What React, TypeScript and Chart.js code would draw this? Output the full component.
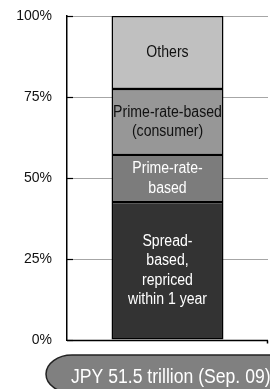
import React, { useEffect, useRef } from "react";
import { Chart, registerables } from "chart.js";
Chart.register(...registerables);

const categories = ["JPY 51.5 trillion (Sep. 09)"];
const seriesNames = [
  "Spread-based, repriced within 1 year",
  "Prime-rate-based",
  "Prime-rate-based (consumer)",
  "Others",
];
const segmentLabels = [
  ["Spread-", "based,", "repriced", "within 1 year"],
  ["Prime-rate-", "based"],
  ["Prime-rate-based", "(consumer)"],
  ["Others"],
];
const spreadValues = [42.6];
const primeValues = [14.5];
const consumerValues = [20.4];
const othersValues = [22.5];
const yTicks = [0, 25, 50, 75, 100];

const FONT = "'Liberation Sans Narrow', 'Arial Narrow', 'Liberation Sans', Arial, sans-serif";
const fills = ["#333333", "#7c7c7c", "#979797", "#c0c0c0"];
const textColors = ["#ffffff", "#ffffff", "#111111", "#111111"];
const NARROW = 0.88;

function narrowText(c: CanvasRenderingContext2D, text: string, x: number, y: number) {
  c.save();
  c.translate(x, y);
  c.scale(NARROW, 1);
  c.fillText(text, 0, 0);
  c.restore();
}

export default function App() {
  const ref = useRef<HTMLCanvasElement>(null);
  useEffect(() => {
    document.body.style.margin = "0";
    const ctx = ref.current!.getContext("2d")!;
    const seriesValues = [spreadValues, primeValues, consumerValues, othersValues];

    const labelPlugin = {
      id: "segLabels",
      afterDatasetsDraw(chart: any) {
        const c = chart.ctx;
        const area = chart.chartArea;
        const ys = chart.scales.y;
        c.save();
        c.strokeStyle = "#000";
        c.lineWidth = 1.2;
        yTicks.forEach((t) => {
          const yy = Math.round(ys.getPixelForValue(t)) + 0.5;
          c.beginPath();
          c.moveTo(area.left, yy);
          c.lineTo(area.left + 6, yy);
          c.stroke();
        });
        const yb = Math.round(ys.getPixelForValue(0)) + 0.5;
        c.lineWidth = 1.5;
        c.beginPath();
        c.moveTo(area.left, yb);
        c.lineTo(area.right, yb);
        c.stroke();
        c.beginPath();
        c.moveTo(area.right - 0.5, yb);
        c.lineTo(area.right - 0.5, yb + 3);
        c.stroke();
        c.font = "16px " + FONT;
        c.textAlign = "center";
        c.textBaseline = "middle";
        chart.data.datasets.forEach((ds: any, i: number) => {
          const el = chart.getDatasetMeta(i).data[0];
          if (!el) return;
          const cy = (el.y + el.base) / 2;
          const lines = segmentLabels[i];
          const lh = 19.5;
          c.fillStyle = textColors[i];
          lines.forEach((ln, k) => {
            narrowText(c, ln, el.x, cy + (k - (lines.length - 1) / 2) * lh);
          });
        });
        c.restore();
      },
      afterDraw(chart: any) {
        const c = chart.ctx;
        c.save();
        const top = 355, bot = 393, left = 46, rx = 26;
        const cy = (top + bot) / 2, ry = (bot - top) / 2;
        c.beginPath();
        c.moveTo(320, top);
        c.lineTo(left + rx, top);
        c.ellipse(left + rx, cy, rx, ry, 0, -Math.PI / 2, Math.PI / 2, true);
        c.lineTo(320, bot);
        c.closePath();
        c.fillStyle = "#808080";
        c.fill();
        c.strokeStyle = "#222";
        c.lineWidth = 1.5;
        c.stroke();
        c.fillStyle = "#ffffff";
        c.font = "20px " + FONT;
        c.textAlign = "left";
        c.textBaseline = "alphabetic";
        narrowText(c, categories[0], 71, 383);
        c.restore();
      },
    };

    const chart = new Chart(ctx, {
      type: "bar",
      data: {
        labels: categories,
        datasets: seriesNames.map((n, i) => ({
          label: n,
          data: seriesValues[i],
          backgroundColor: fills[i],
          borderColor: "#000",
          borderWidth: 1.5,
          borderSkipped: false,
          barPercentage: 0.557,
          categoryPercentage: 1,
        })),
      },
      options: {
        animation: false,
        responsive: true,
        maintainAspectRatio: false,
        layout: { padding: { top: 16, bottom: 49, right: 2, left: 0 } },
        plugins: { legend: { display: false }, tooltip: { enabled: false } },
        scales: {
          x: { stacked: true, display: false },
          y: {
            stacked: true,
            min: 0,
            max: 100,
            afterFit: (s: any) => {
              s.width = 67;
              s.paddingTop = 0;
              s.paddingBottom = 0;
            },
            afterBuildTicks: (s: any) => { s.ticks = yTicks.map((v) => ({ value: v })); },
            ticks: {
              padding: 15,
              color: "#111",
              font: { family: FONT, size: 14 },
              callback: (v: any) => v + "%",
            },
            grid: { color: "#a6a6a6", lineWidth: 1, drawTicks: false },
            border: { display: true, color: "#000", width: 1.5 },
          },
        },
      },
      plugins: [labelPlugin],
    });
    return () => chart.destroy();
  }, []);
  return (
    <div style={{ position: "relative", width: 270, height: 389 }}>
      <canvas ref={ref} />
    </div>
  );
}
